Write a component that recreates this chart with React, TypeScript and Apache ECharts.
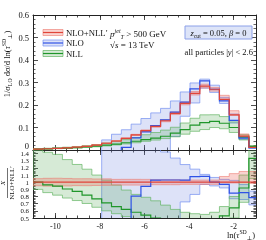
import React, { useEffect, useRef } from "react";
import * as echarts from "echarts";

// bin edges in ln(tau_perp^SD)
const binEdges = [-11, -10.56, -10.12, -9.68, -9.24, -8.8, -8.36, -7.92, -7.48, -7.04, -6.6, -6.16, -5.72, -5.28, -4.84, -4.4, -3.96, -3.52, -3.08, -2.64, -2.2, -1.76, -1.32, -0.88];

// NLO+NLL'
const nloNllCentral = [0.004, 0.0055, 0.0072, 0.0095, 0.0125, 0.0165, 0.022, 0.03, 0.04, 0.052, 0.067, 0.086, 0.105, 0.13, 0.163, 0.207, 0.252, 0.284, 0.27, 0.225, 0.156, 0.062, 0.012];
const nloNllUpper = [0.0042, 0.0058, 0.0076, 0.01, 0.0131, 0.0173, 0.023, 0.0314, 0.0416, 0.0541, 0.0697, 0.0894, 0.1087, 0.1346, 0.1687, 0.2132, 0.2596, 0.2925, 0.2781, 0.243, 0.1747, 0.0713, 0.0138];
const nloNllLower = [0.0038, 0.0052, 0.0068, 0.009, 0.0119, 0.0157, 0.021, 0.0287, 0.0384, 0.0499, 0.0643, 0.0826, 0.1013, 0.1255, 0.1573, 0.2008, 0.2444, 0.2755, 0.2619, 0.2228, 0.1544, 0.0614, 0.0118];

// NLO
const nloCentral = [null, null, null, null, null, null, null, -0.01, -0.004, 0.012, 0.054, 0.081, 0.108, 0.134, 0.168, 0.213, 0.272, 0.307, 0.27, 0.218, 0.132, 0.053, 0.0094];
const nloUpper = [null, null, null, null, null, null, null, 0.045, 0.07, 0.09, 0.115, 0.14, 0.165, 0.185, 0.218, 0.258, 0.298, 0.315, 0.288, 0.234, 0.16, 0.06, 0.0105];
const nloLower = [null, null, null, null, null, null, null, -0.02, -0.02, -0.02, -0.02, -0.02, -0.02, -0.02, 0.06, 0.15, 0.209, 0.275, 0.256, 0.207, 0.12, 0.047, 0.0082];

// NLL
const nllCentral = [0.004, 0.0053, 0.0068, 0.0086, 0.0109, 0.0135, 0.0169, 0.0213, 0.0264, 0.0322, 0.0389, 0.0464, 0.0525, 0.0611, 0.075, 0.091, 0.111, 0.122, 0.127, 0.119, 0.1, 0.057, 0.016];
const nllUpper = [0.0058, 0.0078, 0.01, 0.0125, 0.0156, 0.0195, 0.0242, 0.0309, 0.0384, 0.0463, 0.0556, 0.0679, 0.0777, 0.0884, 0.1011, 0.12, 0.1411, 0.1562, 0.1566, 0.1485, 0.1248, 0.0682, 0.0192];
const nllLower = [0.0036, 0.0047, 0.0059, 0.0074, 0.0093, 0.0116, 0.0143, 0.018, 0.0224, 0.027, 0.0322, 0.0387, 0.0441, 0.0507, 0.0587, 0.0704, 0.0832, 0.0909, 0.0999, 0.0945, 0.078, 0.0446, 0.0126];

const xTickLabels = [-10, -8, -6, -4, -2];
const legendNames = ["NLO+NLL\u2032", "NLO", "NLL"];

const FONT = "'Liberation Serif', 'DejaVu Serif', serif";
const AXIS_COLOR = "#222";

const RED = { line: "#e0453a", fill: "rgba(236,96,86,0.28)", edge: "rgba(236,120,110,0.75)" };
const BLUE = { line: "#2f52e6", fill: "rgba(100,125,225,0.22)", edge: "rgba(110,140,240,0.85)" };
const GREEN = { line: "#1f962a", fill: "rgba(70,160,70,0.22)", edge: "rgba(95,180,95,0.85)" };

const ratio = (arr: (number | null)[]) =>
  arr.map((v, i) => (v == null ? null : v / nloNllCentral[i]));

function lineSeries(xIdx: number, yIdx: number, vals: (number | null)[], color: string, width: number, z: number, anchor: number[]) {
  return {
    type: "custom",
    xAxisIndex: xIdx,
    yAxisIndex: yIdx,
    clip: true,
    silent: true,
    z,
    data: [anchor],
    renderItem: (_p: any, api: any) => {
      const children: any[] = [];
      let pts: number[][] = [];
      const flush = () => {
        if (pts.length > 1)
          children.push({ type: "polyline", shape: { points: pts }, style: { stroke: color, lineWidth: width, fill: null } });
        pts = [];
      };
      for (let i = 0; i < vals.length; i++) {
        const v = vals[i];
        if (v == null) { flush(); continue; }
        pts.push(api.coord([binEdges[i], v]));
        pts.push(api.coord([binEdges[i + 1], v]));
      }
      flush();
      return { type: "group", children };
    },
  };
}

function bandSeries(xIdx: number, yIdx: number, lo: (number | null)[], hi: (number | null)[], c: any, z: number, anchor: number[]) {
  return {
    type: "custom",
    xAxisIndex: xIdx,
    yAxisIndex: yIdx,
    clip: true,
    silent: true,
    z,
    data: [anchor],
    renderItem: (_p: any, api: any) => {
      const children: any[] = [];
      let start = -1;
      const emit = (a: number, b: number) => {
        const up: number[][] = [];
        const dn: number[][] = [];
        for (let i = a; i <= b; i++) {
          up.push(api.coord([binEdges[i], hi[i]]));
          up.push(api.coord([binEdges[i + 1], hi[i]]));
        }
        for (let i = b; i >= a; i--) {
          dn.push(api.coord([binEdges[i + 1], lo[i]]));
          dn.push(api.coord([binEdges[i], lo[i]]));
        }
        children.push({ type: "polygon", shape: { points: up.concat(dn) }, style: { fill: c.fill, stroke: c.edge, lineWidth: 0.8 } });
      };
      for (let i = 0; i <= lo.length; i++) {
        const ok = i < lo.length && lo[i] != null && hi[i] != null;
        if (ok && start < 0) start = i;
        if (!ok && start >= 0) { emit(start, i - 1); start = -1; }
      }
      return { type: "group", children };
    },
  };
}

function makeXAxes() {
  const specs = [
    { grid: 0, pos: "bottom", major: true, labels: false },
    { grid: 0, pos: "bottom", major: false, labels: false },
    { grid: 0, pos: "top", major: true, labels: false },
    { grid: 0, pos: "top", major: false, labels: false },
    { grid: 1, pos: "bottom", major: true, labels: true },
    { grid: 1, pos: "bottom", major: false, labels: false },
    { grid: 1, pos: "top", major: true, labels: false },
    { grid: 1, pos: "top", major: false, labels: false },
  ];
  return specs.map((s) => ({
    type: "value",
    gridIndex: s.grid,
    position: s.pos,
    min: -11,
    max: -1,
    ...(s.major ? { splitNumber: 5 } : { interval: 0.5 }),
    axisLine: { show: s.major, onZero: false, lineStyle: { color: AXIS_COLOR, width: 1 } },
    axisTick: { show: true, inside: true, length: s.major ? 5 : 2.5, lineStyle: { color: AXIS_COLOR, width: 0.8 } },
    axisLabel: {
      show: s.labels,
      margin: 4,
      fontSize: 8,
      fontFamily: FONT,
      color: "#111",
      showMinLabel: false,
      showMaxLabel: false,
      formatter: (v: number) => (xTickLabels.some((t) => Math.abs(t - v) < 1e-6) ? String(Math.round(v)) : ""),
    },
    splitLine: { show: false },
  }));
}

function yAxis(grid: number, pos: string, min: number, max: number, labels: boolean, fontSize: number, fmt: (v: number) => string) {
  return {
    type: "value",
    gridIndex: grid,
    position: pos,
    min,
    max,
    interval: 0.1,
    axisLine: { show: true, onZero: false, lineStyle: { color: AXIS_COLOR, width: 1 } },
    axisTick: { show: true, inside: true, length: 5, lineStyle: { color: AXIS_COLOR, width: 0.8 } },
    minorTick: { show: true, splitNumber: 5, length: 2.5, lineStyle: { color: AXIS_COLOR, width: 0.7 } },
    axisLabel: {
      show: labels,
      margin: 4,
      fontSize,
      fontFamily: FONT,
      color: "#111",
      showMaxLabel: grid === 0,
      formatter: fmt,
      rich: { up: { fontSize, fontFamily: FONT, color: "#111", padding: [0, 0, 8, 0] } },
    },
    splitLine: { show: false },
    minorSplitLine: { show: false },
  };
}

const rs = (size: number, extra: any = {}) => ({ fontSize: size, fontFamily: FONT, fill: "#111", lineHeight: 12, ...extra });

function richStyles(size: number) {
  return {
    n: rs(size),
    it: rs(size, { fontStyle: "italic" }),
    sup: rs(size * 0.68, { lineHeight: 6, verticalAlign: "top" }),
    supi: rs(size * 0.68, { lineHeight: 6, verticalAlign: "top", fontStyle: "italic" }),
    sub: rs(size * 0.68, { lineHeight: 6, verticalAlign: "bottom" }),
    subi: rs(size * 0.68, { lineHeight: 6, verticalAlign: "bottom", fontStyle: "italic" }),
  };
}

function textEl(x: number, y: number, text: string, size: number, align = "left", extra: any = {}) {
  return {
    type: "text",
    x,
    y,
    z: 100,
    silent: true,
    ...extra,
    style: {
      text,
      rich: richStyles(size),
      fontSize: size,
      fontFamily: FONT,
      fill: "#111",
      align,
      textAlign: align,
      verticalAlign: "middle",
      textVerticalAlign: "middle",
    },
  };
}

function legendEls() {
  const cols = [RED, BLUE, GREEN];
  const ys = [32.5, 43, 53.5];
  const els: any[] = [];
  cols.forEach((c, i) => {
    const cy = ys[i];
    els.push({ type: "rect", z: 100, silent: true, shape: { x: 43, y: cy - 3, width: 20, height: 6 }, style: { fill: c.fill, stroke: c.edge, lineWidth: 0.8 } });
    els.push({ type: "line", z: 101, silent: true, shape: { x1: 43, y1: cy, x2: 63, y2: cy }, style: { stroke: c.line, lineWidth: 1.2 } });
    els.push(textEl(66, cy, `{n|${legendNames[i]}}`, 8.7));
  });
  return els;
}

export default function App() {
  const ref = useRef<HTMLDivElement>(null);
  useEffect(() => {
    if (!ref.current) return;
    const chart = echarts.init(ref.current, undefined, { renderer: "svg" });
    const topAnchor = [-6, 0.1];
    const ratAnchor = [-6, 1];
    const option: any = {
      animation: false,
      textStyle: { fontFamily: FONT },
      grid: [
        { left: 33, top: 15, width: 223, height: 135, containLabel: false },
        { left: 33, top: 150, width: 223, height: 68, containLabel: false },
      ],
      xAxis: makeXAxes(),
      yAxis: [
        yAxis(0, "left", 0, 0.6, true, 8.5, (v) => (Math.abs(v) < 1e-9 ? "{up|0}" : v.toFixed(1))),
        yAxis(0, "right", 0, 0.6, false, 8.5, (v) => String(v)),
        yAxis(1, "left", 0.5, 1.45, true, 6.8, (v) => (Math.abs(v - 1) < 1e-9 ? "1" : v.toFixed(1))),
        yAxis(1, "right", 0.5, 1.45, false, 6.8, (v) => String(v)),
      ],
      series: [
        bandSeries(0, 0, nloLower, nloUpper, BLUE, 2, topAnchor),
        bandSeries(0, 0, nllLower, nllUpper, GREEN, 2, topAnchor),
        bandSeries(0, 0, nloNllLower, nloNllUpper, RED, 2, topAnchor),
        lineSeries(0, 0, nllCentral, GREEN.line, 1.2, 3, topAnchor),
        lineSeries(0, 0, nloCentral, BLUE.line, 1.2, 3, topAnchor),
        lineSeries(0, 0, nloNllCentral, RED.line, 1.2, 3, topAnchor),
        bandSeries(4, 2, ratio(nloLower), ratio(nloUpper), BLUE, 2, ratAnchor),
        bandSeries(4, 2, ratio(nllLower), ratio(nllUpper), GREEN, 2, ratAnchor),
        bandSeries(4, 2, ratio(nloNllLower), ratio(nloNllUpper), RED, 2, ratAnchor),
        lineSeries(4, 2, ratio(nllCentral), GREEN.line, 1.2, 3, ratAnchor),
        lineSeries(4, 2, ratio(nloCentral), BLUE.line, 1.2, 3, ratAnchor),
        lineSeries(4, 2, ratio(nloNllCentral), RED.line, 1.2, 3, ratAnchor),
      ],
      graphic: [
        ...legendEls(),
        textEl(110, 34, "{it|p}{supi|jet}{subi|T}{n| > 500 GeV}", 9),
        textEl(110, 45, "{n|\u221A}{it|s}{n| = 13 TeV}", 9),
        { type: "rect", z: 99, silent: true, shape: { x: 185, y: 26, width: 67, height: 13 }, style: { fill: "#dde4f8", stroke: "#8ca0e8", lineWidth: 1 } },
        textEl(218.5, 32.5, "{it|z}{sub|cut}{n| = 0.05, }{it|\u03B2}{n| = 0}", 8.5, "center"),
        textEl(253, 52, "{n|all particles |}{it|y}{n|| < 2.6}", 8.5, "right"),
        textEl(7, 64, "{n|1/\u03C3}{sub|LO}{n| d\u03C3/d ln(}{it|\u03C4}{sup|SD}{sub|\u22A5}{n|)}", 8.5, "center", { rotation: Math.PI / 2 }),
        {
          type: "group",
          x: 7.5,
          y: 183,
          rotation: Math.PI / 2,
          silent: true,
          z: 100,
          children: [
            textEl(0, -4.2, "{it|X}", 7, "center"),
            { type: "line", silent: true, shape: { x1: -15, y1: 0, x2: 15, y2: 0 }, style: { stroke: "#111", lineWidth: 0.6 } },
            textEl(0, 4.2, "{n|NLO+NLL\u2032}", 7, "center"),
          ],
        },
        textEl(255, 235, "{n|ln(}{it|\u03C4}{sup|SD}{sub|\u22A5}{n|)}", 8.5, "right"),
      ],
    };
    chart.setOption(option);
    return () => chart.dispose();
  }, []);
  return <div ref={ref} style={{ position: "fixed", left: 0, top: 0, width: 266, height: 240 }} />;
}
